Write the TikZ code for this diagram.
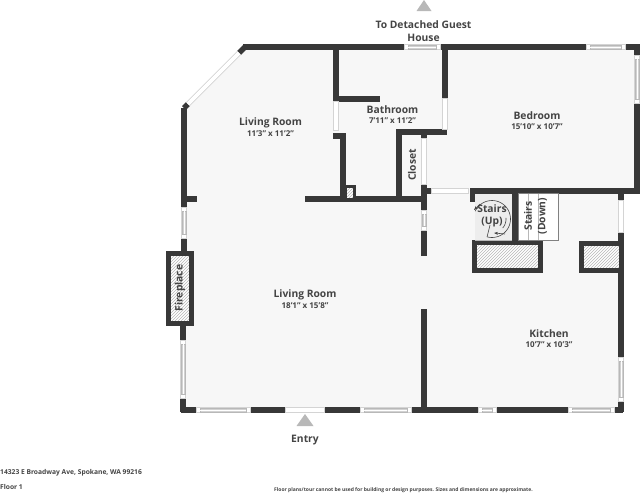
\documentclass[tikz,border=0pt]{standalone}
\usepackage{fontspec}
\setmainfont{Open Sans}
\usetikzlibrary{arrows.meta, patterns}
\definecolor{wallc}{RGB}{56,56,56}
\definecolor{floorc}{RGB}{247,247,247}
\definecolor{labelc}{RGB}{68,68,68}
\definecolor{markc}{RGB}{184,184,184}
\tikzset{
  wall/.style={draw=wallc, line width=5.5pt},
  doorway/.style={draw=markc!60, fill=white, line width=0.4pt},
  panel/.style={draw=markc!60, fill=white, line width=0.5pt},
  pane/.style={draw=markc, fill=floorc!85!black, line width=0.5pt},
  hatched/.style={draw=wallc, line width=5pt, pattern=north east lines, pattern color=markc},
  room/.style={font=\fontsize{10.3}{12}\selectfont\bfseries, text=labelc, inner sep=0pt},
  dims/.style={font=\fontsize{8}{9}\selectfont\bfseries, text=labelc, inner sep=0pt},
  note/.style={font=\fontsize{6.7}{8}\selectfont\bfseries, text=labelc, inner sep=0pt},
  marker/.style={fill=markc, draw=none},
}
\begin{document}
\begin{tikzpicture}[x=1pt, y=-1pt]
  \useasboundingbox (0,0) rectangle (640,493);
  % floor
  \fill[floorc] (184,108) -- (244,47) -- (638,47) -- (638,192) -- (621,192) -- (621,410) -- (183,410) -- cycle;
  % outer walls
  \draw[wall] (243,47) -- (586,47);
  \draw[wall] (625,47) -- (637,47) -- (637,55);
  \draw[wall] (637,103) -- (637,191) -- (470,191);
  \draw[wall] (184,207) -- (184,108);
  \draw[wall] (181,410) -- (196,410);
  \draw[wall] (183,412) -- (183,398);
  \draw[wall] (183,340) -- (183,326);
  \draw[wall] (184,251) -- (184,238);
  \draw[wall] (250,410) -- (285,410);
  \draw[wall] (324,410) -- (360,410);
  \draw[wall] (411,410) -- (478,410);
  \draw[wall] (496,410) -- (568,410);
  \draw[wall] (614,410) -- (623,410);
  \draw[wall] (621,412) -- (621,401);
  \draw[wall] (621,357) -- (621,232);
  \draw[wall] (621,200) -- (621,191);
  % diagonal ends
  \draw[wall] (245,47) -- (239,53);
  \draw[wall] (188,104) -- (184,108);
  % inner walls
  \draw[wall] (184,199) -- (197,199);
  \draw[wall] (305,199) -- (427,199);
  \draw[wall] (336,47) -- (336,101);
  \draw[wall] (336,99) -- (380,99);
  \draw[wall] (333,136) -- (343,136) -- (343,199);
  \draw[wall] (399,199) -- (399,132) -- (447,132);
  \draw[wall] (445,47) -- (445,98);
  \draw[wall] (424,132) -- (424,138);
  \draw[wall] (424,184) -- (424,210);
  \draw[wall] (424,230) -- (424,256);
  \draw[wall] (424,191) -- (431,191);
  \draw[wall] (424,309) -- (424,410);
  \draw[wall] (473,191) -- (473,202);
  \draw[wall] (515,191) -- (515,240);
  % plain openings
  \draw[doorway] (333.5,101) rectangle (338.5,130);
  \draw[doorway] (442.5,98) rectangle (447.5,129);
  \draw[doorway] (421.5,138) rectangle (426.5,184);
  \draw[doorway] (431,188.5) rectangle (468,193.5);
  \draw[doorway] (618.5,200) rectangle (623.5,232);
  \draw[doorway] (285,407.5) rectangle (324,412.5);
  % diagonal window
  \draw[draw=markc, line width=5pt] (239,53) -- (188,104);
  \draw[draw=white, line width=4pt] (239,53) -- (188,104);
  % horizontal windows
  \foreach \xa/\xb/\ym in {404/440/47, 586/625/47, 196/250/410, 360/411/410, 478/496/410, 568/614/410} {
    \draw[panel] (\xa,\ym-2.5) rectangle (\xb,\ym+2.5);
    \draw[pane] (\xa+4,\ym-2) rectangle (\xb-4,\ym+2);
    \draw[draw=white, line width=0.8pt] (\xa+4,\ym) -- (\xb-4,\ym);
  }
  % vertical windows
  \foreach \ya/\yb/\xm in {55/103/637, 207/238/184, 340/398/183, 210/230/424, 357/401/621} {
    \draw[panel] (\xm-2.5,\ya) rectangle (\xm+2.5,\yb);
    \draw[pane] (\xm-2,\ya+4) rectangle (\xm+2,\yb-4);
    \draw[draw=white, line width=0.8pt] (\xm,\ya+4) -- (\xm,\yb-4);
  }
  % fireplace and chimneys
  \fill[white] (168.5,253.5) rectangle (191.5,323.5);
  \draw[hatched] (168.5,253.5) rectangle (191.5,323.5);
  \fill[white] (474,242.5) rectangle (540,270.5);
  \draw[hatched] (474,242.5) rectangle (540,270.5);
  \fill[white] (581.5,243.5) rectangle (621,270);
  \draw[hatched] (581.5,243.5) rectangle (621,270);
  \fill[white] (345,186) rectangle (354,199);
  \draw[hatched, line width=3pt] (345,186) rectangle (354,199);
  % stairs
  \fill[black!7] (475,193.5) rectangle (512,240);
  \draw[draw=markc, line width=0.5pt] (475,240) -- (512,240);
  \draw[fill=white, draw=markc!70!black, line width=0.5pt] (518,193.5) rectangle (558,240);
  \draw[draw=markc, line width=0.5pt] (528,193.5) -- (528,240);
  \draw[draw=markc, line width=0.5pt] (538,193.5) -- (538,240);
  \draw[draw=labelc, line width=0.6pt] plot[smooth, domain=105:-155, samples=40] ({492+18.5*cos(\x)},{219+18.5*sin(\x)});
  \draw[draw=labelc, line width=0.6pt] (487,237) -- (490,225);
  \draw[draw=labelc, line width=0.6pt] plot[smooth, domain=40:-5, samples=10] ({492+14*cos(\x)},{219+14*sin(\x)});
  \draw[draw=labelc, line width=0.6pt, -{Stealth[length=4pt]}] (505,234) -- (494,233);
  \draw[draw=labelc, line width=0.6pt, -{Stealth[length=4pt]}] (480,204) -- (474,210);
  % labels
  \node[room] (toguest) at (423.5,24.5) {To Detached Guest};
  \node[room] (house) at (423.5,37.5) {House};
  \node[room] (livinga) at (270.5,122.5) {Living Room};
  \node[dims] (livingadim) at (270.5,134) {11'3" x 11'2"};
  \node[room] (bath) at (392.5,109.5) {Bathroom};
  \node[dims] (bathdim) at (392.5,121) {7'11" x 11'2"};
  \node[room] (bed) at (537,115.5) {Bedroom};
  \node[dims] (beddim) at (537,127) {15'10" x 10'7"};
  \node[room, rotate=90] (closet) at (412,165) {Closet};
  \node[room] (stairsa) at (492,209) {Stairs};
  \node[room] (stairsb) at (492,222.5) {(Up)};
  \node[room, rotate=90] (stairsc) at (528,216) {Stairs};
  \node[room, rotate=90] (stairsd) at (542.5,216) {(Down)};
  \node[room, rotate=90] (fire) at (180,288) {Fireplace};
  \node[room] (livingb) at (305,295) {Living Room};
  \node[dims] (livingbdim) at (305,306) {18'1" x 15'8"};
  \node[room] (kitchen) at (549,333.5) {Kitchen};
  \node[dims] (kitchendim) at (549,345) {10'7" x 10'3"};
  \node[room] (entry) at (305,440) {Entry};
  % markers
  \fill[marker] (424,0) -- (431.5,11) -- (416.5,11) -- cycle;
  \fill[marker] (305,414) -- (313.5,426) -- (296.5,426) -- cycle;
  % footer
  \node[note, anchor=west] (addr) at (0,473) {14323 E Broadway Ave, Spokane, WA 99216};
  \node[note, anchor=west] (floor) at (0,487) {Floor 1};
  \node[font=\fontsize{5}{6}\selectfont\bfseries, text=labelc, inner sep=0pt, anchor=west] (disc) at (274,490) {Floor plans/tour cannot be used for building or design purposes. Sizes and dimensions are approximate.};
\end{tikzpicture}
\end{document}
